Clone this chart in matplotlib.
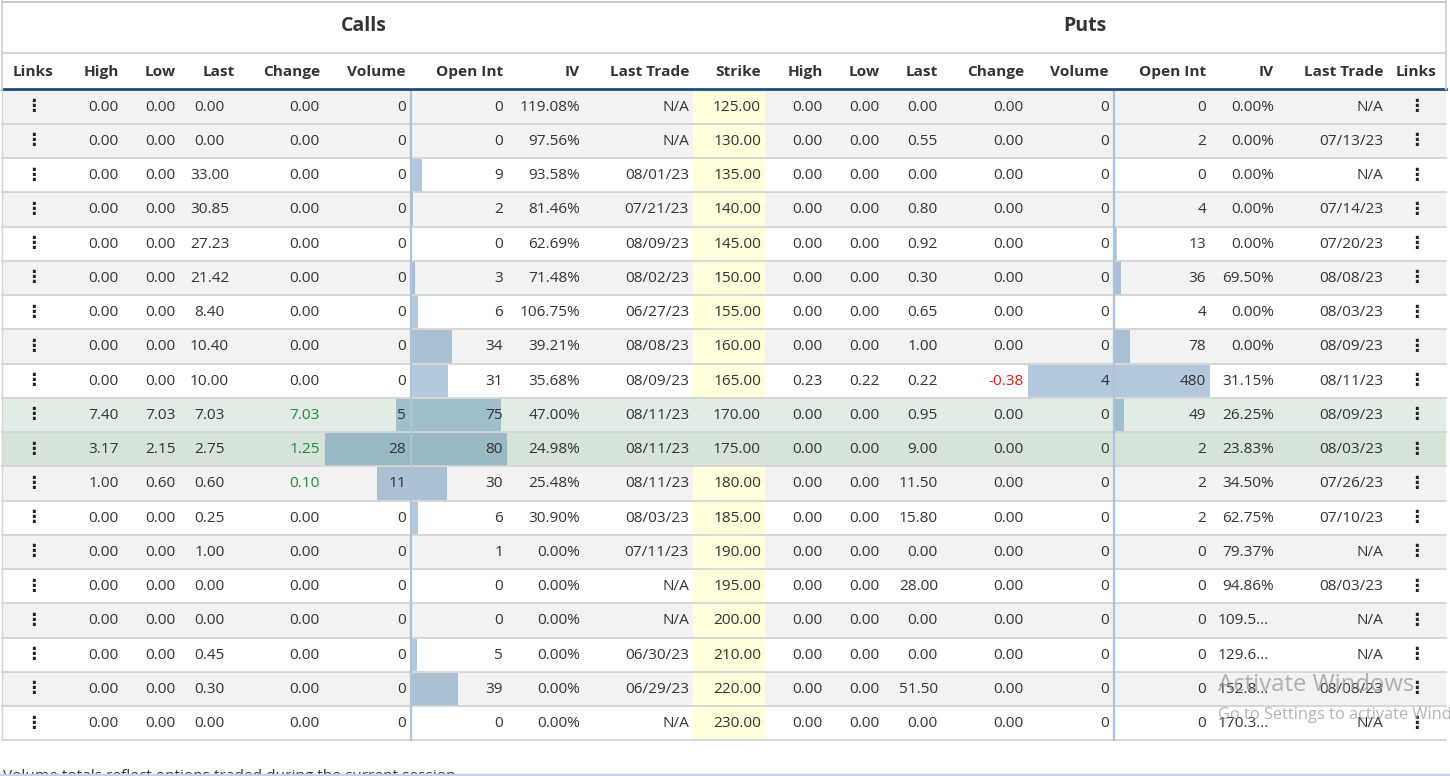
import matplotlib
matplotlib.use("Agg")
import matplotlib.pyplot as plt
from matplotlib.patches import Rectangle

plt.rcParams['font.family'] = ['Open Sans', 'DejaVu Sans']

# ---------------- data ----------------
strikes = [125, 130, 135, 140, 145, 150, 155, 160, 165, 170, 175, 180, 185, 190, 195, 200, 210, 220, 230]

call_high = [0, 0, 0, 0, 0, 0, 0, 0, 0, 7.40, 3.17, 1.00, 0, 0, 0, 0, 0, 0, 0]
call_low = [0, 0, 0, 0, 0, 0, 0, 0, 0, 7.03, 2.15, 0.60, 0, 0, 0, 0, 0, 0, 0]
call_last = [0.00, 0.00, 33.00, 30.85, 27.23, 21.42, 8.40, 10.40, 10.00, 7.03, 2.75, 0.60,
             0.25, 1.00, 0.00, 0.00, 0.45, 0.30, 0.00]
call_change = [0, 0, 0, 0, 0, 0, 0, 0, 0, 7.03, 1.25, 0.10, 0, 0, 0, 0, 0, 0, 0]
call_volume = [0, 0, 0, 0, 0, 0, 0, 0, 0, 5, 28, 11, 0, 0, 0, 0, 0, 0, 0]
call_oi = [0, 0, 9, 2, 0, 3, 6, 34, 31, 75, 80, 30, 6, 1, 0, 0, 5, 39, 0]
call_iv = ["119.08%", "97.56%", "93.58%", "81.46%", "62.69%", "71.48%", "106.75%", "39.21%",
           "35.68%", "47.00%", "24.98%", "25.48%", "30.90%", "0.00%", "0.00%", "0.00%",
           "0.00%", "0.00%", "0.00%"]
call_trade = ["N/A", "N/A", "08/01/23", "07/21/23", "08/09/23", "08/02/23", "06/27/23", "08/08/23",
              "08/09/23", "08/11/23", "08/11/23", "08/11/23", "08/03/23", "07/11/23", "N/A", "N/A",
              "06/30/23", "06/29/23", "N/A"]

put_high = [0, 0, 0, 0, 0, 0, 0, 0, 0.23, 0, 0, 0, 0, 0, 0, 0, 0, 0, 0]
put_low = [0, 0, 0, 0, 0, 0, 0, 0, 0.22, 0, 0, 0, 0, 0, 0, 0, 0, 0, 0]
put_last = [0.00, 0.55, 0.00, 0.80, 0.92, 0.30, 0.65, 1.00, 0.22, 0.95, 9.00, 11.50, 15.80,
            0.00, 28.00, 0.00, 0.00, 51.50, 0.00]
put_change = [0, 0, 0, 0, 0, 0, 0, 0, -0.38, 0, 0, 0, 0, 0, 0, 0, 0, 0, 0]
put_volume = [0, 0, 0, 0, 0, 0, 0, 0, 4, 0, 0, 0, 0, 0, 0, 0, 0, 0, 0]
put_oi = [0, 2, 0, 4, 13, 36, 4, 78, 480, 49, 2, 2, 2, 0, 0, 0, 0, 0, 0]
put_iv = ["0.00%", "0.00%", "0.00%", "0.00%", "0.00%", "69.50%", "0.00%", "0.00%", "31.15%",
          "26.25%", "23.83%", "34.50%", "62.75%", "79.37%", "94.86%", "109.5\u2026",
          "129.6\u2026", "152.8\u2026", "170.3\u2026"]
put_trade = ["N/A", "07/13/23", "N/A", "07/14/23", "07/20/23", "08/08/23", "08/03/23", "08/09/23",
             "08/11/23", "08/09/23", "08/03/23", "07/26/23", "07/10/23", "N/A", "08/03/23", "N/A",
             "N/A", "08/08/23", "N/A"]

row_kind = ["g", "g", "w", "g", "w", "g", "w", "g", "w", "l", "d", "g", "w", "g", "w", "g", "w", "g", "w"]

call_headers = ["Links", "High", "Low", "Last", "Change", "Volume", "Open Int", "IV", "Last Trade", "Strike"]
put_headers = ["High", "Low", "Last", "Change", "Volume", "Open Int", "IV", "Last Trade", "Links"]

# ---------------- layout ----------------
W, H = 1450, 776
fig = plt.figure(figsize=(W / 100, H / 100), dpi=100)
ax = fig.add_axes([0, 0, 1, 1])
ax.set_xlim(0, W)
ax.set_ylim(H, 0)
ax.axis('off')

TXT = '#333333'
FS = 11.1
row_top0 = 89.5
row_h = 34.25
n = len(strikes)
left, right = 2, 1446

bg = {"g": "#f2f2f2", "w": "#ffffff", "l": "#e1ede4", "d": "#d5e3d9"}

# row backgrounds
for i in range(n):
    y0 = row_top0 + i * row_h
    ax.add_patch(Rectangle((left, y0), right - left, row_h, facecolor=bg[row_kind[i]],
                           edgecolor='none', zorder=0))
    if row_kind[i] in ("g", "w"):
        ax.add_patch(Rectangle((693, y0), 72, row_h, facecolor='#ffffdb', edgecolor='none', zorder=0.5))

# bars
bar_col = (0.255, 0.47, 0.65, 0.40)
c_mid, p_mid = 411, 1114
vol_w, oi_w = 86, 96
for i in range(n):
    y0 = row_top0 + i * row_h + 1
    hh = row_h - 1.5
    for mid, vols, ois in ((c_mid, call_volume, call_oi), (p_mid, put_volume, put_oi)):
        mv, mo = max(vols), max(ois)
        if vols[i] > 0:
            w = vols[i] / mv * vol_w
            ax.add_patch(Rectangle((mid - w, y0), w, hh, facecolor=bar_col, edgecolor='none', zorder=1))
        if ois[i] > 0:
            w = ois[i] / mo * oi_w
            ax.add_patch(Rectangle((mid, y0), w, hh, facecolor=bar_col, edgecolor='none', zorder=1))

# row separators
for i in range(n + 1):
    y = row_top0 + i * row_h
    ax.plot([left, right], [y, y], color='#d3d3d3', lw=1.3, zorder=2)

# center lines
for mid in (c_mid, p_mid):
    ax.plot([mid, mid], [row_top0, row_top0 + n * row_h], color='#a9c4dc', lw=1.6, zorder=2.5)

# header borders
ax.plot([left, right], [1.5, 1.5], color='#c8c8c8', lw=1.5, zorder=3)
ax.plot([left, right], [53, 53], color='#d3d3d3', lw=1.3, zorder=3)
ax.plot([left, right], [89, 89], color='#1f4f7e', lw=2.0, zorder=3)
ax.plot([left + 0.5, left + 0.5], [0, 89], color='#d3d3d3', lw=1.3, zorder=3)
ax.plot([right, right], [0, 89], color='#d3d3d3', lw=1.3, zorder=3)
ax.plot([left + 0.5, left + 0.5], [89, row_top0 + n * row_h], color='#d3d3d3', lw=1.0, zorder=3)

ax.text(364, 26, "Calls", ha='center', va='center', fontsize=14, fontweight='bold', color=TXT)
ax.text(1085, 26, "Puts", ha='center', va='center', fontsize=14, fontweight='bold', color=TXT)

# column specs: (x, align)
call_pos = [(33, 'center'), (119, 'right'), (176, 'right'), (235, 'right'), (320, 'right'),
            (406, 'right'), (503, 'right'), (580, 'right'), (689, 'right'), (761, 'right')]
put_pos = [(823, 'right'), (880, 'right'), (938, 'right'), (1024, 'right'), (1109, 'right'),
           (1206, 'right'), (1274, 'right'), (1383, 'right'), (1416, 'center')]

hy = 72
for name, (x, ha) in zip(call_headers, call_pos):
    ax.text(x, hy, name, ha=ha, va='center', fontsize=FS, fontweight='bold', color=TXT)
for name, (x, ha) in zip(put_headers, put_pos):
    ax.text(x, hy, name, ha=ha, va='center', fontsize=FS, fontweight='bold', color=TXT)


def chg_color(v):
    if v > 0:
        return '#1e8a3e'
    if v < 0:
        return '#e01e1e'
    return TXT


def dots(x, y):
    ax.text(x, y - 1, "\u22ee", ha='center', va='center', fontsize=12, fontweight='bold',
            color='#222222', family='DejaVu Sans', zorder=4)


for i in range(n):
    y = row_top0 + i * row_h + row_h / 2 + 0.5
    kw = dict(va='center', fontsize=FS, color=TXT, zorder=4)
    dots(33, y)
    ax.text(119, y, f"{call_high[i]:.2f}", ha='right', **kw)
    ax.text(176, y, f"{call_low[i]:.2f}", ha='right', **kw)
    ax.text(209.5, y, f"{call_last[i]:.2f}", ha='center', **kw)
    ax.text(320, y, f"{call_change[i]:.2f}", ha='right', va='center', fontsize=FS,
            color=chg_color(call_change[i]), zorder=4)
    ax.text(406, y, f"{call_volume[i]}", ha='right', **kw)
    ax.text(503, y, f"{call_oi[i]}", ha='right', **kw)
    ax.text(580, y, call_iv[i], ha='right', **kw)
    ax.text(689, y, call_trade[i], ha='right', **kw)
    ax.text(761, y, f"{strikes[i]:.2f}", ha='right', **kw)

    ax.text(823, y, f"{put_high[i]:.2f}", ha='right', **kw)
    ax.text(880, y, f"{put_low[i]:.2f}", ha='right', **kw)
    ax.text(938, y, f"{put_last[i]:.2f}", ha='right', **kw)
    ax.text(1024, y, f"{put_change[i]:.2f}", ha='right', va='center', fontsize=FS,
            color=chg_color(put_change[i]), zorder=4)
    ax.text(1109, y, f"{put_volume[i]}", ha='right', **kw)
    ax.text(1206, y, f"{put_oi[i]}", ha='right', **kw)
    if put_iv[i].endswith("\u2026"):
        ax.text(1218, y, put_iv[i], ha='left', **kw)
    else:
        ax.text(1274, y, put_iv[i], ha='right', **kw)
    ax.text(1383, y, put_trade[i], ha='right', **kw)
    dots(1416, y)

# footnote (partly cut off at the bottom edge)
ax.text(3, 780, "Volume totals reflect options traded during the current session.", ha='left',
        va='baseline', fontsize=FS, color=TXT)
ax.plot([0, W], [775, 775], color='#c5d3e3', lw=2.5, zorder=5)

# watermark
ax.text(1218, 685, "Activate Windows", ha='left', va='center', fontsize=17.2, color='#9a9a9a',
        alpha=0.75, zorder=6)
ax.text(1218, 715, "Go to Settings to activate Windows.", ha='left', va='center', fontsize=11.8,
        color='#9a9a9a', alpha=0.75, zorder=6)

fig.savefig("out.png", dpi=100)
